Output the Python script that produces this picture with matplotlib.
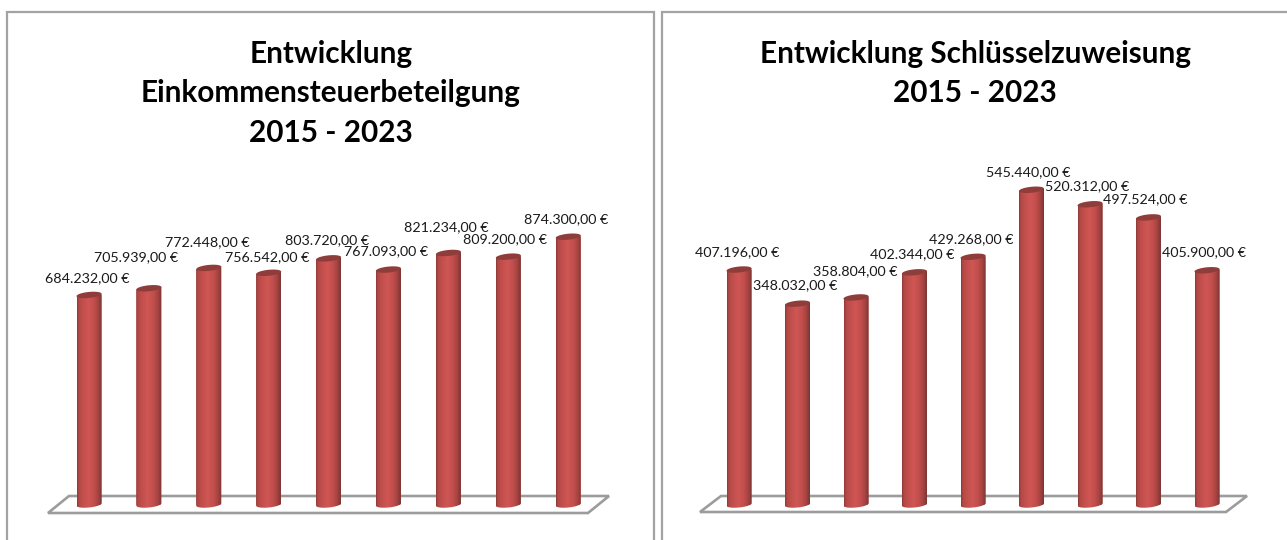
import numpy as np
import matplotlib
matplotlib.use('Agg')
from matplotlib import pyplot as plt
from matplotlib.colors import LinearSegmentedColormap
from matplotlib.lines import Line2D
from matplotlib.patches import Polygon

W, H = 1287, 540

# values
einkommen = [684232, 705939, 772448, 756542, 803720, 767093, 821234, 809200, 874300]
schluessel = [407196, 348032, 358804, 402344, 429268, 545440, 520312, 497524, 405900]
einkommen_titel = 'Entwicklung\nEinkommensteuerbeteilgung\n2015 - 2023'
schluessel_titel = 'Entwicklung Schlüsselzuweisung\n2015 - 2023'

# label offsets from the bar top, in px (centre of label)
einkommen_dx = [-2, -13, -1, -2, -2, -2, -2, -3, -2]
einkommen_dy = [14, 28, 23, 13, 15, 15, 23, 15, 15]
schluessel_dx = [-2, -2, -1, -2, -2, -3, -3, -3, -3]
schluessel_dy = [14, 16, 23, 15, 15, 15, 15, 15, 15]

plt.rcParams['font.family'] = ['Lato', 'DejaVu Sans']

red = LinearSegmentedColormap.from_list('cyl', [
    (0.0, '#8a3937'), (0.06, '#b04744'), (0.2, '#c04e4b'), (0.45, '#cf5654'),
    (0.68, '#c24f4c'), (0.86, '#a44341'), (1.0, '#7c3533')])
grad = np.linspace(0, 1, 64).reshape(1, -1)

fig = plt.figure(figsize=(W / 100, H / 100), dpi=100)
fig.patch.set_facecolor('white')


def fx(x):
    return x / W


def fy(y):
    return 1 - y / H


def frame(xs, ys):
    fig.add_artist(Line2D([fx(x) for x in xs], [fy(y) for y in ys], color='#a3a3a3', lw=1.6,
                          zorder=-1, solid_joinstyle='miter'))


def panel(values, first, step, per_px, title, title_x, dx, dy, floor):
    # first = px of first bar, per_px = euros per pixel
    base = 504.5
    below = 10  # room under zero so the round bar ends are not cut off
    left = first - step / 2
    top = 150
    ax = fig.add_axes([fx(left), fy(base + below), 9 * step / W, (base + below - top) / H])
    ax.axis('off')

    fig.add_artist(Polygon([(fx(x), fy(y)) for x, y in floor], closed=True, fill=False,
                           edgecolor='#9c9c9c', lw=1.9, zorder=-1, transform=fig.transFigure))

    w = 25 / step
    cap = 3 * per_px
    tilt = 1.2 * per_px
    t = np.linspace(0, 2 * np.pi, 80)
    cx = np.arange(len(values))
    bars = ax.bar(cx, values, width=w, color='#bb4c49', linewidth=0)

    for i, v in enumerate(values):
        low = np.linspace(np.pi, 2 * np.pi, 40)
        body_x = np.r_[i - w / 2, i + w / 2 * np.cos(low), i + w / 2]
        body_y = np.r_[v - tilt, -cap * np.abs(np.sin(low)) + tilt * np.cos(low), v + tilt]
        body = Polygon(np.c_[body_x, body_y], closed=True, transform=ax.transData)
        im = ax.imshow(grad, cmap=red, extent=(i - w / 2, i + w / 2, -2 * cap, v + 2 * tilt),
                       aspect='auto', zorder=3, interpolation='bilinear')
        im.set_clip_path(body)
        bars[i].set_clip_path(body)
        ax.fill(i + w / 2 * np.cos(t), v + cap * np.sin(t) + tilt * np.cos(t),
                color='#8f3d3b', lw=0, zorder=4)
        label = f'{v:,.2f} €'.replace(',', 'X').replace('.', ',').replace('X', '.')
        ax.annotate(label, (i, v + cap), xytext=(dx[i] * 0.72, dy[i] * 0.72), textcoords='offset points',
                    ha='center', va='center', fontsize=10.3, color='#1a1a1a',
                    zorder=5, annotation_clip=False)
    ax.set_xlim(-0.5, 8.5)
    ax.set_ylim(-below * per_px, (base - top) * per_px)

    fig.text(fx(title_x), fy(40), title, ha='center', va='top', fontsize=21.4, fontweight='bold',
             color='black', linespacing=1.49)


frame([7, 7, 654, 654], [540, 12, 12, 540])
frame([662, 662, 1287], [540, 12, 12])

panel(einkommen, 89, 59.9, 3265, einkommen_titel, 331, einkommen_dx, einkommen_dy,
      [(48, 513), (69, 496), (609, 496), (588, 513)])
panel(schluessel, 739, 58.5, 1733, schluessel_titel, 975, schluessel_dx, schluessel_dy,
      [(700, 512), (721, 496), (1247, 496), (1226, 512)])

fig.savefig('out.png', dpi=100)
